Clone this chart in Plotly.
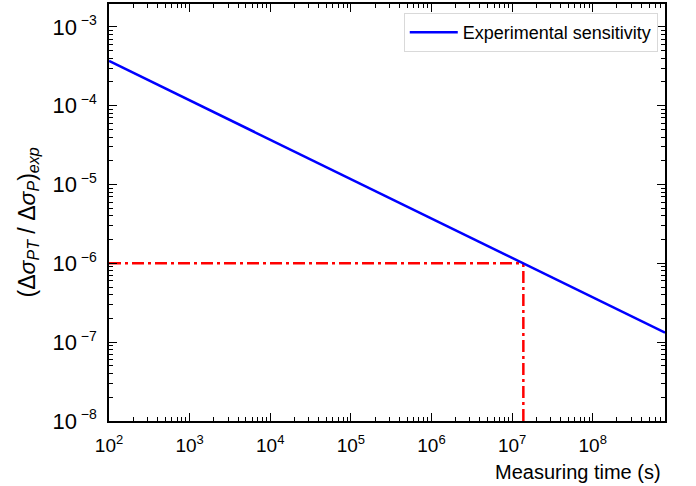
import plotly.graph_objects as go

# Measured sensitivity versus measuring time (log-log)
time_s = [1e2, 1e3, 1e4, 1e5, 1e6, 1e7, 1e8, 7.9e8]
sensitivity = [3.7e-4, 1.17e-4, 3.7e-5, 1.17e-5, 3.7e-6, 1.17e-6, 3.7e-7, 1.32e-7]

# Target sensitivity and the time needed to reach it
target_sens = 1e-6
target_time = 1.38e7
x_start = 1e2
y_floor = 1e-8

x_exps = [2, 3, 4, 5, 6, 7, 8]
y_exps = [-8, -7, -6, -5, -4, -3]
x_ticktext = [f"10<sup><span style='font-size:13px'>{e}</span></sup>" for e in x_exps]
y_ticktext = [f"10<sup><span style='font-size:14px'> \u2212{-e}</span></sup>" for e in y_exps]

x_minor = [m * 10 ** e for e in range(2, 9) for m in range(2, 10)]
y_minor = [m * 10.0 ** e for e in range(-8, -2) for m in range(2, 10)]

FONT = "Liberation Sans, Arial, sans-serif"
DASH = "12px,4px,3px,4px"

fig = go.Figure()

fig.add_trace(go.Scatter(
    x=[x_start, target_time], y=[target_sens, target_sens],
    mode="lines", line=dict(color="#ff0000", width=2.5, dash=DASH),
    showlegend=False, hoverinfo="skip"))
fig.add_trace(go.Scatter(
    x=[target_time, target_time], y=[y_floor, target_sens],
    mode="lines", line=dict(color="#ff0000", width=2.5, dash=DASH),
    showlegend=False, hoverinfo="skip"))

fig.add_trace(go.Scatter(
    x=time_s, y=sensitivity, mode="lines",
    line=dict(color="#0000ff", width=2.5),
    name="Experimental sensitivity"))

axis_common = dict(
    showgrid=False, zeroline=False, showline=True, linecolor="black", linewidth=1.5,
    mirror="allticks", ticks="inside", ticklen=8, tickwidth=1.2, tickcolor="black",
    ticklabelstandoff=6,
)

fig.update_xaxes(
    type="log", range=[2, 8.897],
    tickmode="array", tickvals=[10 ** e for e in x_exps], ticktext=x_ticktext,
    tickfont=dict(family=FONT, size=19, color="black"),
    minor=dict(tickmode="array", tickvals=x_minor, ticks="inside", ticklen=4,
               tickwidth=1, tickcolor="black", showgrid=False),
    **axis_common)
fig.update_yaxes(
    type="log", range=[-8, -2.71],
    tickmode="array", tickvals=[10.0 ** e for e in y_exps], ticktext=y_ticktext,
    tickfont=dict(family=FONT, size=22, color="black"),
    minor=dict(tickmode="array", tickvals=y_minor, ticks="inside", ticklen=4,
               tickwidth=1, tickcolor="black", showgrid=False),
    **axis_common)

# Axis titles
fig.add_annotation(
    text="Measuring time (s)", xref="paper", yref="paper", x=1.0, y=0,
    xanchor="right", yanchor="middle", yshift=-51, xshift=-2, showarrow=False,
    font=dict(family=FONT, size=20, color="black"))
fig.add_annotation(
    text="(\u0394<i>\u03c3</i><sub><i>PT</i></sub> / \u0394<i>\u03c3</i><sub><i>P</i></sub>)<sub><i>exp</i></sub>",
    xref="paper", yref="paper", x=0, y=0.5, textangle=-90,
    xanchor="center", yanchor="middle", xshift=-81, yshift=-10, showarrow=False,
    font=dict(family=FONT, size=23, color="black"))

fig.update_layout(
    width=696, height=486,
    margin=dict(l=109, r=31, t=2, b=65),
    paper_bgcolor="white", plot_bgcolor="white",
    showlegend=True,
    legend=dict(x=0.987, y=0.978, xanchor="right", yanchor="top",
                itemwidth=48,
                bgcolor="rgba(255,255,255,0.8)", bordercolor="#d9d9d9", borderwidth=1,
                font=dict(family=FONT, size=18, color="black")),
)

fig.write_html("out.html")
